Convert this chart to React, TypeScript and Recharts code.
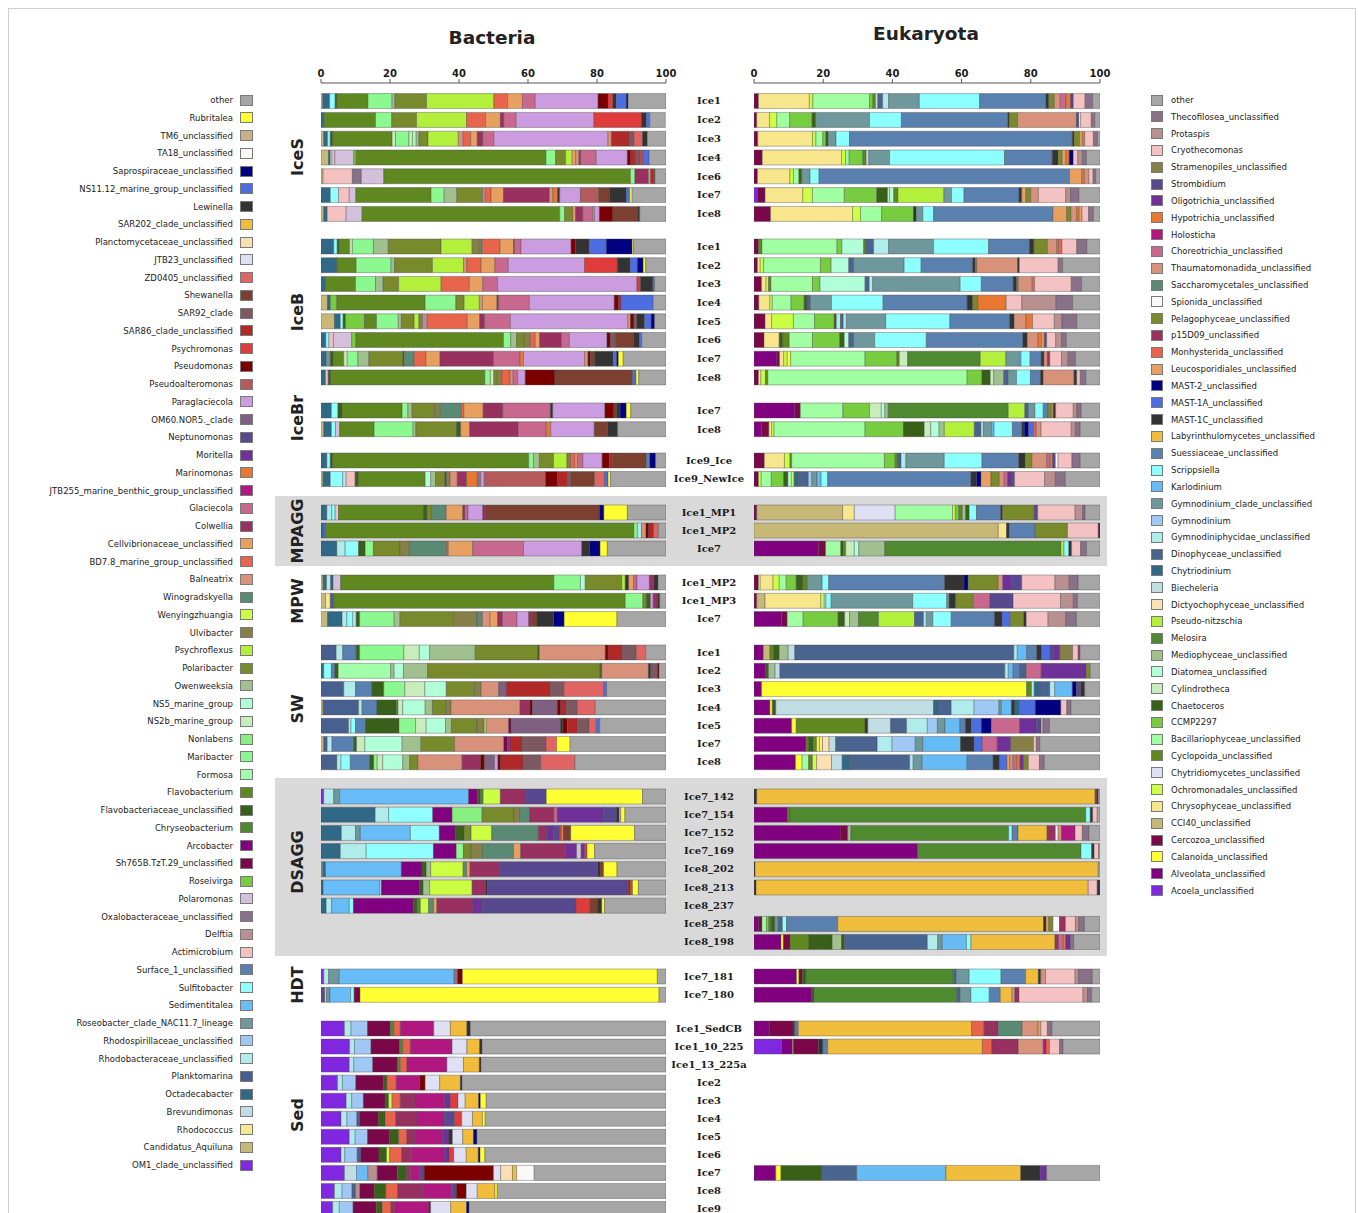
import React from "react";
import { BarChart, Bar, XAxis, YAxis, Cell } from "recharts";

type Seg = [string, number];

// ---- legends (code, label, colour) ----
const bacteriaLegend: [string, string, string][] = [
  ["oth", "other", "#a6a6a6"],
  ["Rub", "Rubritalea", "#ffff33"],
  ["TM6", "TM6_unclassified", "#c8b08a"],
  ["TA18", "TA18_unclassified", "#fdf8f8"],
  ["Sap", "Saprospiraceae_unclassified", "#000080"],
  ["NS11", "NS11.12_marine_group_unclassified", "#4d6ee0"],
  ["Lew", "Lewinella", "#333333"],
  ["S202", "SAR202_clade_unclassified", "#f0bc3a"],
  ["Pla", "Planctomycetaceae_unclassified", "#fbe0b4"],
  ["JTB23", "JTB23_unclassified", "#e0e0f4"],
  ["ZD", "ZD0405_unclassified", "#e06464"],
  ["She", "Shewanella", "#7c4030"],
  ["S92", "SAR92_clade", "#7c5860"],
  ["S86", "SAR86_clade_unclassified", "#b02828"],
  ["Psm", "Psychromonas", "#e03c3c"],
  ["Pse", "Pseudomonas", "#7a0000"],
  ["Pal", "Pseudoalteromonas", "#b45a5a"],
  ["Par", "Paraglaciecola", "#cc9ce0"],
  ["OM60", "OM60.NOR5._clade", "#806080"],
  ["Nep", "Neptunomonas", "#584890"],
  ["Mor", "Moritella", "#70309a"],
  ["Mar", "Marinomonas", "#e87830"],
  ["J255", "JTB255_marine_benthic_group_unclassified", "#b01880"],
  ["Gla", "Glaciecola", "#c8688e"],
  ["Col", "Colwellia", "#983060"],
  ["Cel", "Cellvibrionaceae_unclassified", "#e8a060"],
  ["BD7", "BD7.8_marine_group_unclassified", "#e8644a"],
  ["Bal", "Balneatrix", "#d8927a"],
  ["Win", "Winogradskyella", "#5a8a74"],
  ["Wen", "Wenyingzhuangia", "#ccff44"],
  ["Ulv", "Ulvibacter", "#868048"],
  ["Psf", "Psychroflexus", "#b2f03c"],
  ["Pol", "Polaribacter", "#788a2c"],
  ["Owe", "Owenweeksia", "#a0c090"],
  ["NS5", "NS5_marine_group", "#b0ffd8"],
  ["NS2b", "NS2b_marine_group", "#c8ecbc"],
  ["Non", "Nonlabens", "#88f080"],
  ["Mab", "Maribacter", "#8cf890"],
  ["For", "Formosa", "#a0ffa8"],
  ["Fla", "Flavobacterium", "#608820"],
  ["Fu", "Flavobacteriaceae_unclassified", "#386018"],
  ["Chr", "Chryseobacterium", "#508830"],
  ["Arc", "Arcobacter", "#800080"],
  ["Sh7", "Sh765B.TzT.29_unclassified", "#7a0848"],
  ["Ros", "Roseivirga", "#78cc40"],
  ["Plm", "Polaromonas", "#d4c0dc"],
  ["Oxa", "Oxalobacteraceae_unclassified", "#887088"],
  ["Del", "Delftia", "#b89090"],
  ["Act", "Actimicrobium", "#f4c0c0"],
  ["Sur", "Surface_1_unclassified", "#5880b0"],
  ["Sul", "Sulfitobacter", "#90ffff"],
  ["Sed", "Sedimentitalea", "#68bcf8"],
  ["NAC", "Roseobacter_clade_NAC11.7_lineage", "#70989c"],
  ["Rsp", "Rhodospirillaceae_unclassified", "#a0c8f4"],
  ["Rbu", "Rhodobacteraceae_unclassified", "#b0ecec"],
  ["Pkm", "Planktomarina", "#486090"],
  ["Oct", "Octadecabacter", "#306888"],
  ["Bre", "Brevundimonas", "#c0dce4"],
  ["Rho", "Rhodococcus", "#f8e890"],
  ["Aqu", "Candidatus_Aquiluna", "#c8b878"],
  ["OM1", "OM1_clade_unclassified", "#8028e0"],
];

const eukaryotaLegend: [string, string, string][] = [
  ["oth", "other", "#a6a6a6"],
  ["The", "Thecofilosea_unclassified", "#887088"],
  ["Pro", "Protaspis", "#b89090"],
  ["Cry", "Cryothecomonas", "#f4c2c2"],
  ["Str", "Stramenopiles_unclassified", "#868048"],
  ["Stb", "Strombidium", "#584890"],
  ["Oli", "Oligotrichia_unclassified", "#70309a"],
  ["Hyp", "Hypotrichia_unclassified", "#e87830"],
  ["Hol", "Holosticha", "#b01880"],
  ["Cho", "Choreotrichia_unclassified", "#c8688e"],
  ["Tha", "Thaumatomonadida_unclassified", "#d8927a"],
  ["Sac", "Saccharomycetales_unclassified", "#5a8a74"],
  ["Spi", "Spionida_unclassified", "#fdf8f8"],
  ["Pel", "Pelagophyceae_unclassified", "#788a2c"],
  ["p15", "p15D09_unclassified", "#983060"],
  ["Mon", "Monhysterida_unclassified", "#e8644a"],
  ["Leu", "Leucosporidiales_unclassified", "#e8a060"],
  ["M2", "MAST-2_unclassified", "#000080"],
  ["M1A", "MAST-1A_unclassified", "#4d6ee0"],
  ["M1C", "MAST-1C_unclassified", "#333333"],
  ["Lab", "Labyrinthulomycetes_unclassified", "#f0be3c"],
  ["Sue", "Suessiaceae_unclassified", "#5a80b0"],
  ["Scr", "Scrippsiella", "#8cffff"],
  ["Kar", "Karlodinium", "#66bbf5"],
  ["Gyc", "Gymnodinium_clade_unclassified", "#6e989c"],
  ["Gym", "Gymnodinium", "#a0c8f4"],
  ["Gyp", "Gymnodiniphycidae_unclassified", "#b0ecec"],
  ["Din", "Dinophyceae_unclassified", "#4a6490"],
  ["Chy", "Chytriodinium", "#306888"],
  ["Bie", "Biecheleria", "#c0dde4"],
  ["Dic", "Dictyochophyceae_unclassified", "#fbe0b4"],
  ["Pn", "Pseudo-nitzschia", "#b2f03c"],
  ["Mel", "Melosira", "#508a30"],
  ["Med", "Mediophyceae_unclassified", "#a0c090"],
  ["Dia", "Diatomea_unclassified", "#b0ffd8"],
  ["Cyl", "Cylindrotheca", "#c8ecbc"],
  ["Cha", "Chaetoceros", "#386018"],
  ["CCM", "CCMP2297", "#78cc40"],
  ["Bac", "Bacillariophyceae_unclassified", "#a0ffa0"],
  ["Cyc", "Cyclopoida_unclassified", "#608820"],
  ["Ctm", "Chytridiomycetes_unclassified", "#e0e0f4"],
  ["Och", "Ochromonadales_unclassified", "#ccff44"],
  ["Chs", "Chrysophyceae_unclassified", "#f8e68c"],
  ["CCI", "CCI40_unclassified", "#c8b878"],
  ["Cer", "Cercozoa_unclassified", "#7a0848"],
  ["Cal", "Calanoida_unclassified", "#ffff33"],
  ["Alv", "Alveolata_unclassified", "#800080"],
  ["Aco", "Acoela_unclassified", "#8028e0"],
];

const axisTicks = [0, 20, 40, 60, 80, 100];

// ---- sample labels per group ----
const rowsIceS = ["Ice1", "Ice2", "Ice3", "Ice4", "Ice6", "Ice7", "Ice8"];
const rowsIceB = ["Ice1", "Ice2", "Ice3", "Ice4", "Ice5", "Ice6", "Ice7", "Ice8"];
const rowsIceBr = ["Ice7", "Ice8"];
const rowsIce9 = ["Ice9_Ice", "Ice9_NewIce"];
const rowsMPAGG = ["Ice1_MP1", "Ice1_MP2", "Ice7"];
const rowsMPW = ["Ice1_MP2", "Ice1_MP3", "Ice7"];
const rowsSW = ["Ice1", "Ice2", "Ice3", "Ice4", "Ice5", "Ice7", "Ice8"];
const rowsDSAGG = ["Ice7_142", "Ice7_154", "Ice7_152", "Ice7_169", "Ice8_202", "Ice8_213", "Ice8_237", "Ice8_258", "Ice8_198"];
const rowsHDT = ["Ice7_181", "Ice7_180"];
const rowsSed = ["Ice1_SedCB", "Ice1_10_225", "Ice1_13_225a", "Ice2", "Ice3", "Ice4", "Ice5", "Ice6", "Ice7", "Ice8", "Ice9"];

// ---- Bacteria relative abundance (%), segments left to right ----
const bacIceS: Seg[][] = [
  [["Aqu", 0.5], ["Oct", 2], ["Sul", 1.6], ["Fu", 0.5], ["Fla", 9], ["Mab", 7], ["Owe", 0.8], ["Pol", 9.2], ["Psf", 19.5], ["BD7", 4], ["Cel", 4.3], ["Gla", 3.7], ["Par", 18.2], ["Pse", 2.9], ["Psm", 1.4], ["Lew", 1], ["NS11", 2.9], ["Sap", 0.5], ["oth", 11]],
  [["Oct", 0.8], ["Fla", 15], ["Mab", 4.7], ["Pol", 7.2], ["Psf", 14.5], ["BD7", 5.5], ["Cel", 4.3], ["Col", 1], ["Gla", 3.6], ["Par", 22.5], ["Psm", 13.8], ["Lew", 1.4], ["NS11", 1], ["oth", 4.5]],
  [["Aqu", 0.8], ["Oct", 1.1], ["Sul", 0.8], ["Fu", 0.7], ["Fla", 17.2], ["NS2b", 1], ["Mab", 3.9], ["NS2b", 1], ["For", 1.1], ["Owe", 0.8], ["Pol", 2.6], ["Psf", 8.8], ["Bal", 1.4], ["BD7", 2.2], ["Cel", 1.9], ["Col", 1.6], ["Gla", 3.2], ["Par", 33.1], ["Bal", 1], ["S86", 5.1], ["S92", 1.4], ["ZD", 2.5], ["Lew", 1.4], ["oth", 5.4]],
  [["Aqu", 2.2], ["Oct", 0.5], ["Sul", 0.5], ["Act", 0.8], ["Plm", 5.5], ["Ros", 0.7], ["Fla", 55], ["Mab", 2.8], ["Pol", 2.9], ["Psf", 1.9], ["Cel", 1], ["Bal", 1], ["Col", 0.5], ["Gla", 4.5], ["Par", 9], ["Pse", 1], ["S86", 1.4], ["S92", 1.3], ["Psm", 0.8], ["NS11", 1.8], ["oth", 4.9]],
  [["Aqu", 0.6], ["Act", 8.5], ["Oxa", 2.6], ["Plm", 6.5], ["Fla", 71.5], ["Mab", 1.3], ["Col", 3.9], ["Bal", 0.7], ["S86", 0.8], ["She", 0.4], ["oth", 3.2]],
  [["Oct", 2.7], ["Sul", 2.4], ["Act", 3.1], ["Plm", 1.9], ["Fla", 21.8], ["Mab", 3.8], ["Owe", 3.7], ["Pol", 7.4], ["Del", 0.8], ["BD7", 1.7], ["Cel", 3.6], ["Col", 13.3], ["Bal", 1], ["Mar", 1.4], ["Lew", 0.6], ["Par", 6], ["Pal", 5.3], ["She", 3.1], ["Lew", 4.9], ["NS11", 1], ["Rub", 0.7], ["oth", 9.8]],
  [["Aqu", 0.8], ["Oct", 1], ["Act", 5.5], ["Plm", 4.6], ["Fla", 57.3], ["Mab", 1.4], ["Pol", 2.4], ["Cel", 0.8], ["Col", 2.1], ["Gla", 2.9], ["Bal", 0.5], ["Par", 1.4], ["Pse", 3.9], ["She", 7.3], ["Lew", 0.5], ["oth", 7.6]],
];

const bacIceB: Seg[][] = [
  [["Oct", 3.7], ["Sul", 1], ["Fu", 0.5], ["Fla", 3.1], ["NS2b", 0.8], ["Mab", 6.1], ["Owe", 4.3], ["Pol", 15.3], ["Psf", 9], ["Ulv", 2.1], ["Win", 0.8], ["BD7", 5.2], ["Cel", 3.9], ["Col", 0.3], ["Gla", 1.9], ["Par", 14.5], ["Pse", 1.3], ["Lew", 3.9], ["NS11", 5], ["Sap", 7.5], ["Rub", 0.4], ["oth", 9.4]],
  [["Oct", 4.6], ["Fla", 5.6], ["Mab", 10.1], ["Owe", 1], ["Pol", 11], ["Psf", 9], ["Bal", 1], ["BD7", 4.1], ["Cel", 4], ["Gla", 3.9], ["Par", 22.1], ["Psm", 9.5], ["Lew", 3.7], ["NS11", 2.1], ["Sap", 1.7], ["Rub", 0.7], ["oth", 5.9]],
  [["Oct", 1.3], ["Fla", 8.7], ["Mab", 5.8], ["Owe", 2.2], ["Pol", 4.5], ["Psf", 12.3], ["BD7", 8.2], ["Cel", 3.9], ["Gla", 4.3], ["Par", 40.4], ["Psm", 1], ["Lew", 3.6], ["NS11", 0.5], ["oth", 3.3]],
  [["Aqu", 1.9], ["Oct", 0.8], ["Ros", 1.9], ["Fla", 25.6], ["Mab", 8.9], ["Pol", 2.4], ["Psf", 4.4], ["Bal", 0.9], ["Cel", 4.2], ["Col", 0.5], ["Gla", 8.9], ["Par", 24.6], ["Pse", 1.3], ["Col", 0.7], ["NS11", 9.3], ["oth", 3.7]],
  [["Aqu", 3.9], ["Oct", 1.7], ["Sul", 0.8], ["Fu", 0.7], ["Ros", 5.5], ["Fla", 3.5], ["Mab", 6.3], ["Owe", 0.9], ["Pol", 3.7], ["Psf", 1.4], ["Ulv", 1], ["Del", 1.4], ["BD7", 11.6], ["Cel", 3.6], ["Col", 1.4], ["Gla", 7.5], ["Par", 34], ["Bal", 0.8], ["Pse", 1], ["S92", 0.8], ["Lew", 2.3], ["NS11", 1.9], ["Sap", 1], ["oth", 3.3]],
  [["Oct", 1.4], ["Sul", 0.9], ["Act", 1.3], ["Plm", 5.3], ["Ros", 1.2], ["Fla", 42.8], ["Mab", 2.1], ["Owe", 1.7], ["Pol", 2.1], ["Ulv", 1.9], ["BD7", 1.4], ["Cel", 1.3], ["Col", 6.3], ["Gla", 2.3], ["Par", 10.9], ["Pse", 1], ["S92", 1.4], ["She", 5.3], ["Lew", 1.7], ["NS11", 0.7], ["oth", 7]],
  [["Oct", 1.5], ["NAC", 1.2], ["Fu", 0.8], ["Fla", 3.1], ["NS2b", 1], ["Mab", 3.1], ["Owe", 3.2], ["Pol", 9.9], ["Fu", 0.3], ["Win", 2.9], ["BD7", 3.4], ["Cel", 4.1], ["Col", 15.5], ["Gla", 7.7], ["Mar", 1], ["Par", 17.7], ["Bal", 1], ["Pse", 0.7], ["She", 1.3], ["Lew", 5.3], ["NS11", 1], ["Sap", 0.5], ["Rub", 1.4], ["oth", 12.4]],
  [["Oct", 1.3], ["Act", 0.8], ["Fu", 0.7], ["Fla", 44.7], ["Mab", 1.6], ["NS2b", 1], ["Pol", 1], ["Ulv", 1.3], ["BD7", 2.4], ["Bal", 0.9], ["Gla", 1.3], ["Par", 2.2], ["Pse", 8.6], ["She", 22.5], ["NS11", 1], ["Rub", 0.8], ["oth", 7.9]],
];

const bacIceBr: Seg[][] = [
  [["Oct", 3], ["Sul", 1.9], ["Fu", 1.2], ["Fla", 17.4], ["Mab", 1.7], ["Owe", 1.2], ["Pol", 6.6], ["Ulv", 1.6], ["Win", 6.1], ["BD7", 0.7], ["Cel", 5.6], ["Col", 5.7], ["Gla", 13.8], ["Lew", 0.7], ["Par", 15.1], ["Pse", 2.6], ["She", 0.7], ["Lew", 1.1], ["Sap", 1.8], ["Rub", 1.3], ["oth", 10.2]],
  [["Aqu", 0.8], ["Oct", 2.2], ["Sul", 1.2], ["Plm", 1.2], ["Fla", 10], ["Mab", 11.3], ["Owe", 0.8], ["Pol", 11.8], ["Fu", 1.2], ["Cel", 2.6], ["Col", 14], ["Gla", 8.2], ["Mar", 1.3], ["Par", 12.6], ["She", 3.9], ["Lew", 2.9], ["oth", 14]],
];

const bacIce9: Seg[][] = [
  [["Oct", 1.7], ["Sul", 1], ["Fu", 0.7], ["Fla", 56.8], ["Mab", 1.4], ["Owe", 1.7], ["Pol", 4.1], ["Psf", 3.9], ["Ulv", 1], ["BD7", 1.3], ["Cel", 0.7], ["Gla", 1.6], ["Par", 5.6], ["Pse", 2.1], ["S86", 0.8], ["She", 9.9], ["Sur", 1], ["Sap", 1.7], ["oth", 3]],
  [["Aqu", 0.6], ["Oct", 2.1], ["Sul", 3.6], ["Rbu", 1], ["Act", 2.6], ["Fu", 1], ["Fla", 19.3], ["NS5", 1.6], ["Owe", 1.4], ["Pol", 2.7], ["Fu", 0.5], ["Ulv", 1], ["Bal", 2.1], ["Col", 2.7], ["Mar", 3.1], ["Oxa", 1], ["Par", 1], ["Pal", 17.8], ["Pse", 3.5], ["S86", 2.9], ["S92", 0.9], ["She", 6.9], ["ZD", 2.9], ["NS11", 1], ["Rub", 0.7], ["oth", 16.1]],
];

const bacMPAGG: Seg[][] = [
  [["Oct", 1.7], ["Rbu", 1.4], ["Sul", 1], ["Act", 1], ["Fla", 24.6], ["Fu", 1], ["Pol", 1.3], ["Win", 4.3], ["Cel", 4.8], ["Col", 0.6], ["Gla", 0.9], ["Par", 4.3], ["Col", 0.8], ["She", 33], ["Sap", 1.3], ["Rub", 6.8], ["oth", 11.2]],
  [["Oct", 0.8], ["NS11", 0.5], ["Fla", 89.4], ["Mab", 1], ["Rbu", 1.2], ["Bal", 1.3], ["Pse", 0.8], ["S86", 1.4], ["ZD", 1.4], ["oth", 2.2]],
  [["Oct", 4.6], ["Rbu", 2.4], ["Sul", 3.9], ["Fu", 1.9], ["Mab", 2.4], ["Pol", 7.7], ["Ulv", 2.7], ["Win", 10.8], ["BD7", 0.5], ["Cel", 7.1], ["Gla", 14.7], ["Par", 16.9], ["Lew", 2.2], ["Sap", 3.1], ["Rub", 2.1], ["oth", 17]],
];

const bacMPW: Seg[][] = [
  [["Aqu", 0.6], ["Oct", 1], ["Rbu", 1.2], ["Oct", 0.7], ["Plm", 2.2], ["Fla", 61.8], ["Mab", 7.7], ["NS5", 1.4], ["Pol", 10.6], ["Psf", 1], ["Lew", 1], ["Cel", 1.4], ["Gla", 1], ["Par", 3.6], ["Col", 1.3], ["Lew", 1.2], ["oth", 2.3]],
  [["Aqu", 1.3], ["Rho", 1.4], ["Pkm", 1], ["Fla", 84.5], ["Mab", 5.1], ["Pol", 1], ["Fu", 1.2], ["Par", 0.8], ["Col", 1.2], ["Lew", 0.7], ["oth", 1.8]],
  [["Aqu", 1.9], ["Oct", 4.2], ["Rbu", 1.4], ["Sul", 1.7], ["Rbu", 1], ["Fu", 1], ["Mab", 10], ["Owe", 1.7], ["Pol", 15.5], ["Ulv", 6.8], ["Win", 1.6], ["Bal", 2.2], ["Cel", 2.2], ["Col", 1.4], ["Gla", 4.2], ["Par", 3.4], ["Col", 0.8], ["She", 1.6], ["Lew", 4.8], ["Sap", 3.1], ["Rub", 15.3], ["oth", 14.2]],
];

const bacSW: Seg[][] = [
  [["Pkm", 4.4], ["Rbu", 1.9], ["Sur", 3.9], ["Fu", 1], ["Mab", 12.8], ["NS2b", 4.5], ["NS5", 3], ["Owe", 13.2], ["Pol", 18.2], ["Fu", 0.4], ["Bal", 19.1], ["Pse", 0.8], ["S86", 4.1], ["S92", 4.1], ["ZD", 2.7], ["oth", 5.9]],
  [["Oct", 0.8], ["Sul", 2.2], ["Sur", 1], ["Fu", 1], ["For", 15.2], ["Owe", 1], ["NS5", 2.7], ["Owe", 7], ["Pol", 50], ["Fu", 0.5], ["Bal", 13.5], ["Lew", 0.7], ["S92", 1.9], ["Pse", 0.5], ["oth", 2]],
  [["Pkm", 6.6], ["Rbu", 3.4], ["Sur", 4.8], ["Fu", 3.4], ["Mab", 6.1], ["NS2b", 5.8], ["NS5", 6.2], ["Pol", 8.2], ["Ulv", 1.9], ["Bal", 5.1], ["OM60", 2.2], ["S86", 12.8], ["S92", 3.9], ["ZD", 11.6], ["NS11", 0.8], ["oth", 17.2]],
  [["Aqu", 0.6], ["Pkm", 10.3], ["Rbu", 1], ["Sur", 4.3], ["Fu", 5.6], ["Chr", 0.5], ["NS2b", 1.4], ["NS5", 6.5], ["Owe", 2.1], ["Pol", 4], ["Ulv", 1.4], ["Bal", 20], ["Col", 2.9], ["Pse", 0.7], ["OM60", 7.2], ["Pse", 1], ["S86", 1.6], ["S92", 3.2], ["ZD", 5.2], ["oth", 20.5]],
  [["Pkm", 8], ["Rbu", 0.7], ["Sul", 1.3], ["Sur", 2.9], ["Fu", 9.7], ["Mab", 4.8], ["NS2b", 3.1], ["NS5", 5.6], ["Owe", 1.7], ["Pol", 7.4], ["Ulv", 2.1], ["Psf", 0.6], ["Bal", 6.5], ["Sh7", 0.7], ["OM60", 14.3], ["Lew", 0.7], ["Pse", 1.3], ["S86", 2.9], ["S92", 3.4], ["ZD", 2.1], ["NS11", 1], ["oth", 19.2]],
  [["Aqu", 0.8], ["Pkm", 1], ["Rbu", 1.4], ["Sur", 6.3], ["Fu", 0.8], ["NS2b", 2.4], ["NS5", 10.8], ["Owe", 5.5], ["Pol", 9.7], ["Bal", 14.3], ["Sh7", 1], ["Mor", 0.7], ["S86", 3.7], ["S92", 6.8], ["ZD", 3.1], ["Rub", 3.9], ["oth", 27.8]],
  [["Pkm", 4.6], ["Rbu", 1.2], ["Sul", 2.7], ["Sur", 5.6], ["Fu", 1.2], ["Mab", 1], ["NS2b", 1.6], ["NS5", 5.8], ["Owe", 2], ["Pol", 2.4], ["Bal", 12.8], ["Col", 5.3], ["Pse", 1.2], ["OM60", 2.9], ["Par", 1], ["Pse", 0.8], ["S86", 6.5], ["S92", 5.1], ["ZD", 9.9], ["oth", 26.4]],
];

const bacDSAGG: Seg[][] = [
  [["OM1", 0.8], ["Rbu", 2.9], ["NAC", 1.7], ["Sed", 37.4], ["Arc", 2.6], ["Fu", 0.8], ["Chr", 0.8], ["Wen", 5], ["Col", 7.2], ["Nep", 6.1], ["Rub", 27.9], ["oth", 6.8]],
  [["Oct", 15.7], ["Rbu", 3.9], ["Sul", 12.8], ["Arc", 5.6], ["Non", 8.7], ["Pol", 9.2], ["Ulv", 1.7], ["Win", 2.9], ["Col", 7], ["Gla", 1], ["Mor", 13.3], ["Nep", 3.8], ["Lew", 0.8], ["Par", 0.5], ["Rub", 1.2], ["oth", 11.9]],
  [["Oct", 5.9], ["Rbu", 4.1], ["NAC", 1.4], ["Sed", 14.5], ["Sul", 8.4], ["Arc", 4.6], ["Fu", 2.6], ["Pol", 2], ["Wen", 6], ["Win", 13.5], ["Col", 2.4], ["Mor", 1.9], ["Nep", 1.9], ["Psm", 0.5], ["Cel", 0.5], ["She", 2.2], ["Rub", 18.5], ["oth", 9.1]],
  [["Oct", 5.6], ["Rbu", 7.5], ["Sul", 19.5], ["Arc", 6.6], ["Mab", 2.1], ["Pol", 2.2], ["Ulv", 3.3], ["Win", 9], ["Cel", 2.1], ["Col", 13], ["Mor", 3.2], ["Plm", 1.3], ["Mor", 1], ["Psm", 0.7], ["Rub", 2.2], ["oth", 20.7]],
  [["NAC", 0.6], ["Oct", 0.7], ["Sed", 22], ["Arc", 6], ["Fu", 1.2], ["Owe", 1.3], ["Wen", 9.4], ["Win", 1], ["Cel", 1], ["Col", 8.5], ["Nep", 28.5], ["Lew", 0.7], ["She", 1], ["Rub", 3.9], ["oth", 14.2]],
  [["Oct", 0.6], ["Sed", 16.4], ["Rbu", 0.5], ["Arc", 11.1], ["Fu", 1], ["Owe", 1.9], ["Wen", 12.3], ["Col", 3.9], ["Lew", 0.5], ["Nep", 40.6], ["She", 0.8], ["Psm", 0.7], ["Rub", 1.7], ["oth", 8]],
  [["Oct", 1.5], ["Rbu", 1.6], ["Sed", 5.1], ["Sul", 1.2], ["Arc", 17.4], ["Fu", 1], ["Chr", 1], ["Wen", 2.4], ["Win", 1.4], ["Cel", 1], ["Col", 10.4], ["Mor", 2.8], ["Nep", 27.1], ["Psm", 4.1], ["She", 2.1], ["Lew", 1.3], ["Rub", 0.8], ["oth", 17.8]],
  [],
  [],
];

const bacHDT: Seg[][] = [
  [["OM1", 0.8], ["Rbu", 1.4], ["NAC", 3.1], ["Sed", 33.3], ["Oxa", 1], ["Pse", 1.4], ["Rub", 56.5], ["oth", 2.5]],
  [["Nep", 1.1], ["Rbu", 0.5], ["NAC", 1], ["Sed", 6], ["Sul", 1], ["Sh7", 1.7], ["Rub", 86.7], ["oth", 2]],
];

const bacSed: Seg[][] = [
  [["OM1", 6.8], ["Rbu", 1.9], ["Rsp", 4.8], ["Sh7", 6.6], ["Chr", 1], ["BD7", 1.9], ["J255", 9.7], ["JTB23", 4.8], ["S202", 4.8], ["Lew", 1], ["oth", 56.7]],
  [["OM1", 8.3], ["Rbu", 1.4], ["Rsp", 4.8], ["Sh7", 8.3], ["Chr", 0.9], ["BD7", 2.2], ["J255", 12.1], ["JTB23", 4.3], ["S202", 3.7], ["Lew", 0.7], ["oth", 53.3]],
  [["OM1", 8.2], ["Rbu", 1.3], ["Rsp", 5.5], ["Sh7", 7.2], ["Chr", 0.8], ["BD7", 1.9], ["J255", 11.6], ["JTB23", 4.8], ["S202", 4.6], ["Lew", 0.5], ["oth", 53.6]],
  [["OM1", 4.8], ["Rbu", 1.4], ["Rsp", 3.9], ["Sh7", 8], ["Fu", 1], ["BD7", 2.7], ["J255", 6.8], ["Pse", 1.6], ["JTB23", 4.2], ["S202", 6], ["Lew", 0.5], ["oth", 59.1]],
  [["OM1", 7.3], ["Rbu", 1.6], ["Rsp", 3.4], ["Sh7", 6.3], ["Fu", 1], ["Wen", 1], ["BD7", 2.4], ["Col", 4.2], ["J255", 8.6], ["Mor", 1.7], ["Psm", 2.2], ["JTB23", 2.1], ["S202", 3.9], ["Sap", 0.5], ["Rub", 1.7], ["oth", 52.1]],
  [["OM1", 5.8], ["Rbu", 1.7], ["Rsp", 2.9], ["Pkm", 0.8], ["Sh7", 5.5], ["Fu", 1.9], ["BD7", 3.1], ["Col", 6.1], ["J255", 7.9], ["Nep", 3], ["Psm", 2.1], ["JTB23", 3.1], ["S202", 2.9], ["Rub", 0.8], ["oth", 52.4]],
  [["OM1", 8.2], ["Rbu", 1.7], ["Rsp", 3.6], ["Sh7", 6.4], ["Fu", 2.6], ["BD7", 2.4], ["Col", 2.2], ["J255", 8.1], ["Mor", 1.9], ["Lew", 1], ["JTB23", 3], ["S202", 3.1], ["Sap", 1], ["oth", 54.8]],
  [["OM1", 5.8], ["Rbu", 1.1], ["Rsp", 3.6], ["Pkm", 1], ["Sh7", 5.3], ["Fu", 2.2], ["Wen", 0.9], ["BD7", 3.5], ["Col", 2.9], ["J255", 9.4], ["Mor", 1.4], ["Psm", 1.4], ["JTB23", 3.6], ["S202", 3.5], ["Sap", 0.5], ["Rub", 1.4], ["oth", 52.5]],
  [["OM1", 6.8], ["Bre", 3.5], ["Sed", 3.3], ["Del", 2.7], ["Sh7", 5.8], ["Fu", 2.7], ["Col", 1.2], ["J255", 2.6], ["Nep", 1.3], ["Pse", 20.1], ["JTB23", 2.1], ["Pla", 3.4], ["S202", 1.2], ["TA18", 5.1], ["oth", 38.2]],
  [["OM1", 3.9], ["Rbu", 2.2], ["Rsp", 2.9], ["Pkm", 1], ["Del", 1.3], ["Sh7", 4.1], ["Fu", 3.4], ["BD7", 3.4], ["Col", 7.2], ["J255", 8.4], ["Nep", 1.4], ["Pse", 2.9], ["JTB23", 3.2], ["S202", 5.1], ["Rub", 0.7], ["oth", 48.9]],
  [["OM1", 3.4], ["Rbu", 1.9], ["Rsp", 4], ["Sh7", 6.7], ["Fu", 1.7], ["BD7", 2.6], ["Col", 1.1], ["J255", 9.9], ["Lew", 0.5], ["JTB23", 5.8], ["S202", 4.6], ["Sap", 0.7], ["oth", 57.1]],
];

// ---- Eukaryota relative abundance (%) ----
const eukIceS: Seg[][] = [
  [["Cer", 1.3], ["Chs", 14.7], ["Och", 1], ["Bac", 16.4], ["CCM", 1], ["Cyc", 0.7], ["Bie", 0.7], ["Din", 1.4], ["Gyp", 1.7], ["Gyc", 8.9], ["Scr", 17.4], ["Sue", 19.2], ["M1C", 0.8], ["Pel", 1.6], ["Tha", 1.7], ["Cho", 1.7], ["Hyp", 1.3], ["Stb", 0.8], ["Cry", 3.4], ["The", 2.2], ["oth", 2.1]],
  [["Cer", 0.8], ["Chs", 3.7], ["Och", 2.1], ["Bac", 3.7], ["CCM", 6.5], ["Cha", 1], ["Gyc", 15.6], ["Scr", 9.2], ["Sue", 30.8], ["M1C", 0.4], ["Pel", 2.4], ["Tha", 17], ["Stb", 0.7], ["Spi", 0.5], ["Cry", 3.1], ["The", 1], ["oth", 1.5]],
  [["Cer", 1.1], ["Chs", 15.8], ["Och", 1], ["Bac", 2], ["CCM", 0.9], ["Cha", 0.6], ["Gyc", 2.3], ["Scr", 3.9], ["Sue", 64.4], ["M1C", 0.5], ["Pel", 1.6], ["Leu", 0.8], ["Hyp", 0.7], ["Cry", 2.5], ["The", 1.2], ["oth", 0.7]],
  [["Cer", 2.4], ["Chs", 22.9], ["Och", 1.2], ["Bac", 1], ["CCM", 4], ["Cyc", 0.9], ["Bie", 0.8], ["Gyc", 6], ["Scr", 33.2], ["Sue", 13.8], ["M1C", 1.7], ["Pel", 1.2], ["Leu", 1], ["Hyp", 1], ["M2", 1.2], ["Cry", 1.3], ["Pro", 1.3], ["The", 1.2], ["oth", 3.9]],
  [["Cer", 1], ["Chs", 9.4], ["Och", 1], ["Bac", 1.6], ["Cha", 0.8], ["Gyc", 2.4], ["Scr", 2.6], ["Sue", 72.4], ["Leu", 3.6], ["Hyp", 0.7], ["Tha", 1.3], ["Cry", 1.2], ["The", 0.8], ["oth", 1.2]],
  [["Aco", 1], ["Cer", 2.2], ["Chs", 10.9], ["Och", 2.8], ["Bac", 9.2], ["CCM", 9.4], ["Cha", 3.1], ["Cyl", 0.6], ["Dia", 1.2], ["Cyc", 1.2], ["Pn", 13.3], ["Gyc", 2.2], ["Scr", 3.6], ["Sue", 15.9], ["M1C", 0.8], ["Leu", 1.2], ["Pel", 1.4], ["Tha", 2.2], ["Cry", 7.9], ["Pro", 1.4], ["The", 2.4], ["oth", 6.1]],
  [["Cer", 4.8], ["Chs", 23.7], ["Och", 2.3], ["Bac", 6.1], ["CCM", 9.2], ["M1C", 0.8], ["Gyc", 1.9], ["Scr", 3.1], ["Sue", 34.5], ["Leu", 4], ["Pel", 1.2], ["Tha", 1.7], ["Hyp", 0.7], ["Leu", 0.8], ["Cry", 1.9], ["The", 1.4], ["oth", 1.9]],
];

const eukIceB: Seg[][] = [
  [["Cer", 1.3], ["Cyc", 1], ["Bac", 21.7], ["CCM", 1.4], ["Dia", 6.3], ["Cyc", 0.7], ["Din", 2.2], ["Gyp", 4.3], ["Gyc", 13], ["Scr", 15.9], ["Sue", 11.8], ["M1C", 1.3], ["Pel", 3.9], ["Tha", 2.7], ["Hyp", 0.5], ["Mon", 1], ["Cry", 4.3], ["The", 2.9], ["oth", 3.8]],
  [["Cer", 1], ["Chs", 0.8], ["Och", 1], ["Bac", 16.4], ["CCM", 3.1], ["Dia", 5.1], ["Din", 1.4], ["Gyc", 14.6], ["Scr", 4.9], ["Sue", 14.9], ["M1C", 0.7], ["Pel", 0.5], ["Tha", 11.8], ["M1C", 0.5], ["Cry", 11.2], ["The", 1.3], ["oth", 10.8]],
  [["Cer", 2.2], ["Chs", 1.3], ["Och", 0.7], ["Cyc", 0.7], ["Bac", 12], ["CCM", 2.2], ["Dia", 13], ["Din", 1.2], ["Gyp", 1], ["Gyc", 25.3], ["Scr", 6.1], ["Sue", 9.2], ["M1C", 1], ["Pel", 0.5], ["Tha", 4], ["Mon", 0.7], ["Cry", 10.6], ["The", 3], ["oth", 5.3]],
  [["Cer", 1.4], ["Chs", 3.2], ["Och", 0.7], ["Bac", 5.4], ["CCM", 3.8], ["Cha", 0.8], ["Din", 1], ["Gyc", 6.1], ["Scr", 14.9], ["Sue", 24.3], ["M1C", 1.6], ["Pel", 1.5], ["Hyp", 8.2], ["Cry", 4.5], ["Pro", 9.9], ["The", 4.8], ["oth", 7.9]],
  [["Cer", 3.2], ["Chs", 1.9], ["Och", 6.3], ["Bac", 6.1], ["CCM", 5.7], ["Cha", 0.6], ["Gyp", 1.2], ["Din", 0.8], ["Gyp", 0.9], ["Gyc", 11.4], ["Scr", 18.5], ["Sue", 17.3], ["M1C", 1.3], ["Tha", 3.4], ["Hyp", 1.9], ["Cry", 6.3], ["Pro", 2.2], ["The", 4.3], ["oth", 6.7]],
  [["Cer", 2.9], ["Chs", 4.4], ["Cha", 1], ["Cyc", 1.9], ["Bac", 6.7], ["CCM", 7.9], ["Cha", 1.3], ["Dia", 1.3], ["Din", 1.4], ["Gyc", 6.1], ["Scr", 14.9], ["Sue", 27.9], ["M1C", 1.3], ["Tha", 3.1], ["Hyp", 1], ["Leu", 0.8], ["Stb", 0.7], ["Cry", 2.6], ["Pro", 1.7], ["The", 1.4], ["oth", 9.7]],
  [["Alv", 6.6], ["Cer", 0.8], ["Chs", 1.2], ["Och", 1], ["Cal", 1], ["Bac", 21.5], ["CCM", 9.2], ["Cyc", 0.7], ["Cyl", 2.4], ["Mel", 21], ["Pn", 7.4], ["Gyc", 3.9], ["Kar", 0.5], ["Scr", 2.6], ["Sue", 3.2], ["M1C", 0.8], ["Tha", 1], ["p15", 0.7], ["Cry", 3.4], ["Pro", 1.9], ["The", 2.1], ["oth", 7.1]],
  [["Cer", 1.3], ["Chs", 0.7], ["Och", 1.3], ["Cyc", 0.7], ["Bac", 57.6], ["CCM", 4.3], ["Cha", 2.4], ["Cyl", 1], ["Med", 2.9], ["Din", 1.2], ["Gyc", 2.5], ["Scr", 4], ["Sue", 2.9], ["M1C", 0.8], ["Tha", 8.9], ["M1C", 0.8], ["Cry", 1], ["The", 1.6], ["oth", 4.1]],
];

const eukIceBr: Seg[][] = [
  [["Alv", 11.8], ["Cer", 1.6], ["Bac", 12.3], ["CCM", 7.7], ["Cyl", 3.4], ["Dia", 1], ["Med", 1], ["Mel", 34.7], ["Pn", 4.8], ["Din", 1], ["Gyc", 1.9], ["Scr", 2.4], ["Sue", 1.4], ["Pel", 1], ["Tha", 0.5], ["M1C", 0.7], ["Cry", 5.1], ["Pro", 1], ["The", 1.3], ["oth", 5.4]],
  [["Alv", 2.2], ["Cer", 2.1], ["Chs", 0.8], ["Och", 0.7], ["Bac", 26.3], ["CCM", 11.1], ["Cha", 6], ["Cyl", 1.9], ["Dia", 2.4], ["Med", 1.5], ["Pn", 8.7], ["Din", 1.9], ["Gyp", 0.7], ["Gyc", 2.4], ["Kar", 0.7], ["Scr", 5.3], ["Sue", 2.7], ["M1C", 0.7], ["M2", 1.3], ["M1A", 1.4], ["Mon", 0.8], ["Tha", 1.4], ["Cry", 8.7], ["Pro", 1.2], ["The", 1.4], ["oth", 5.7]],
];

const eukIce9: Seg[][] = [
  [["Cer", 3], ["Chs", 5.8], ["Och", 1.6], ["Cyc", 0.5], ["Bac", 26.8], ["CCM", 3.1], ["Cyc", 0.7], ["Din", 1], ["Gyp", 1.4], ["Gyc", 11.1], ["Scr", 10.9], ["Sue", 10.6], ["M1C", 1.9], ["Pel", 1.9], ["Tha", 4.3], ["Cho", 1], ["Hyp", 0.7], ["Stb", 0.8], ["Spi", 0.8], ["Cry", 4], ["The", 2.4], ["oth", 5.7]],
  [["Cer", 1.3], ["Och", 0.8], ["Bac", 2.9], ["CCM", 3.6], ["Cha", 1.2], ["Dia", 1], ["Och", 0.8], ["Chy", 1.3], ["Din", 2.8], ["Gym", 1], ["Gyc", 1.5], ["Kar", 1.2], ["Scr", 1.9], ["Sue", 41.4], ["M1C", 1.6], ["M2", 1.3], ["Leu", 2.9], ["Pel", 2.4], ["Tha", 1.4], ["Cho", 1], ["Oli", 1], ["Stb", 1], ["Cry", 8.7], ["Pro", 3.1], ["The", 2.9], ["oth", 10.2]],
];

const eukMPAGG: Seg[][] = [
  [["Cer", 0.8], ["CCI", 24.8], ["Chs", 3.4], ["Ctm", 11.8], ["Bac", 16.6], ["Och", 0.8], ["CCM", 1], ["Cyc", 1], ["Med", 1], ["Cha", 1], ["Scr", 2.1], ["Sue", 7], ["M1C", 0.5], ["Pel", 9.2], ["Stb", 1], ["Cry", 10.8], ["Pro", 2.2], ["The", 0.7], ["oth", 4.5]],
  [["CCI", 70.6], ["Chs", 2.4], ["M1C", 0.8], ["Sue", 7.4], ["Pel", 9.4], ["Cry", 8.9], ["Cer", 0.5]],
  [["Alv", 18.6], ["Cer", 2.1], ["Bac", 4.4], ["Cha", 0.7], ["Cyc", 0.7], ["Cyl", 2.5], ["Dia", 1.3], ["Med", 7.5], ["Mel", 50.9], ["Pn", 0.9], ["Scr", 1.4], ["M1C", 0.8], ["Cry", 2.6], ["The", 1.7], ["oth", 3.9]],
];

const eukMPW: Seg[][] = [
  [["Cer", 1.3], ["Cal", 0.5], ["Chs", 3.7], ["Och", 1.8], ["Bac", 2], ["CCM", 2.9], ["Cha", 1.9], ["Cyc", 1.3], ["Gyc", 4.3], ["Scr", 1.9], ["Sue", 33.5], ["M1C", 5.6], ["M2", 1.2], ["Pel", 8.7], ["Tha", 1.3], ["Oli", 2.6], ["Stb", 2.9], ["Cry", 9.6], ["Pro", 4.1], ["The", 2.6], ["oth", 6.3]],
  [["Cer", 0.8], ["CCI", 2.4], ["Chs", 16.1], ["Och", 1], ["Bie", 0.5], ["Scr", 1.5], ["Gyc", 23.6], ["Scr", 9.8], ["Gyc", 0.7], ["M1C", 1.9], ["Pel", 5.1], ["Cho", 4.8], ["Stb", 6.7], ["Cry", 13.7], ["Pro", 3.7], ["The", 1.2], ["oth", 6.5]],
  [["Alv", 8], ["Cer", 1.6], ["Bac", 4.6], ["CCM", 10.1], ["Cha", 1.9], ["Cyl", 1.4], ["Med", 2.6], ["Mel", 5.8], ["Pn", 10.4], ["Din", 2.6], ["Gyp", 0.8], ["Gyc", 1.9], ["Scr", 5.3], ["Sue", 12.5], ["M1C", 2.2], ["M1A", 2.4], ["Pel", 3.9], ["M1C", 0.7], ["Cry", 6.3], ["Pro", 5.1], ["The", 3.1], ["oth", 6.8]],
];

const eukSW: Seg[][] = [
  [["Alv", 2.7], ["CCI", 1.9], ["Cyc", 1], ["Cha", 1.7], ["Med", 2.6], ["Bie", 1.9], ["Din", 63.3], ["Gyp", 1], ["Kar", 2.7], ["Sue", 2.9], ["M1C", 1.4], ["M1A", 2.4], ["Stb", 1], ["Oli", 1.9], ["Str", 3.7], ["Cry", 1.6], ["p15", 0.5], ["oth", 5.8]],
  [["Alv", 3.4], ["Cha", 0.8], ["Med", 1.9], ["Bie", 1.4], ["Din", 65], ["Gyp", 1], ["Kar", 1.4], ["Sue", 1.9], ["Din", 1.9], ["Cho", 4.3], ["Oli", 13], ["Pel", 1.2], ["oth", 2.8]],
  [["Alv", 2.2], ["Cal", 76.6], ["Cyc", 1.4], ["Gyp", 0.8], ["Chy", 1.6], ["Din", 2.9], ["Gyp", 1.4], ["Kar", 5.1], ["M2", 1.2], ["Stb", 1.2], ["M1C", 1.2], ["oth", 4.4]],
  [["Alv", 4.6], ["Cal", 0.7], ["Cha", 1], ["Bie", 45.6], ["Chy", 1.3], ["Din", 3.8], ["Gyp", 6.6], ["Gym", 7.2], ["Gyc", 0.7], ["Kar", 2.9], ["M1C", 1], ["Chy", 1.3], ["M1A", 4.6], ["M2", 7.4], ["Cry", 1.7], ["The", 1.2], ["oth", 8.4]],
  [["Alv", 10.9], ["Cal", 1.3], ["Cyc", 19.9], ["M1C", 0.8], ["Bie", 6.6], ["Din", 4.6], ["Gyp", 6], ["Gym", 2.9], ["Gyc", 2.2], ["Kar", 4.3], ["Sue", 1.6], ["M1C", 1.7], ["M1A", 2.9], ["M2", 2.9], ["Cho", 8.2], ["Oli", 4.8], ["Stb", 1.4], ["Cry", 0.5], ["The", 1.9], ["oth", 14.6]],
  [["Alv", 15], ["Cyc", 0.7], ["Cha", 1.4], ["Cyc", 1], ["Cal", 0.8], ["Chs", 0.9], ["Dic", 1.9], ["Bie", 1.9], ["Din", 12], ["Gyp", 4.3], ["Gym", 6.7], ["Gyc", 2.2], ["Kar", 10.9], ["M1C", 3.9], ["M1A", 2.3], ["Cho", 4.4], ["Oli", 3.9], ["Str", 6.6], ["Cry", 0.8], ["The", 1], ["oth", 17.4]],
  [["Alv", 12], ["Cal", 1.9], ["Bac", 1.9], ["Cyc", 1.1], ["Och", 1.2], ["Dic", 4.3], ["Bie", 3.1], ["Chy", 2.4], ["Din", 17.1], ["Gyp", 1], ["Gyc", 2.6], ["Kar", 13], ["Sue", 7.5], ["M1C", 1.9], ["M1A", 2.1], ["Leu", 0.8], ["Tha", 1], ["Cho", 1], ["Hyp", 1], ["Oli", 1], ["Pel", 1.4], ["Cry", 3.2], ["The", 1.4], ["oth", 16.1]],
];

const eukDSAGG: Seg[][] = [
  [["M1C", 0.8], ["Lab", 97.8], ["p15", 0.5], ["M1C", 0.4], ["oth", 0.5]],
  [["Alv", 9.7], ["Cyc", 0.7], ["Mel", 85.5], ["Scr", 1.3], ["M1C", 0.7], ["Cry", 1.3], ["oth", 0.8]],
  [["Alv", 24.9], ["Cer", 2.2], ["Med", 0.9], ["Mel", 45.6], ["Scr", 1], ["Sue", 1.7], ["Lab", 8.4], ["p15", 2.4], ["Spi", 0.8], ["Tha", 1], ["Hol", 3.9], ["Cry", 2.1], ["The", 1.9], ["oth", 3.2]],
  [["Alv", 47.3], ["Mel", 47.2], ["Scr", 3.1], ["M1C", 0.7], ["Cry", 1.3], ["oth", 0.4]],
  [["M1C", 0.3], ["Lab", 99.2], ["oth", 0.5]],
  [["M1C", 0.6], ["Lab", 96], ["Cry", 2.6], ["M1C", 0.8]],
  [],
  [["Alv", 1.3], ["Cer", 1], ["Bac", 1.3], ["CCM", 0.7], ["Mel", 0.7], ["Cha", 1], ["Gyc", 1], ["Din", 1.2], ["Scr", 1.2], ["Sue", 14.8], ["Lab", 59.5], ["M1C", 0.7], ["Leu", 0.8], ["Pel", 1.2], ["Spi", 1.9], ["p15", 1.7], ["Cry", 2.9], ["Pro", 1], ["The", 1.6], ["oth", 4.5]],
  [["Alv", 7.8], ["Cal", 0.7], ["Cer", 1.9], ["Cyc", 5.5], ["Cha", 6.7], ["Med", 2.7], ["Cha", 0.8], ["Din", 24], ["Gyp", 3], ["Gyc", 1.3], ["Kar", 7], ["Scr", 1.3], ["Lab", 24.3], ["p15", 1], ["Cho", 1.4], ["Hyp", 0.7], ["Oli", 1.3], ["The", 1], ["oth", 7.6]],
];

const eukHDT: Seg[][] = [
  [["Alv", 12.3], ["Cal", 0.7], ["Cer", 1], ["Cha", 1], ["Mel", 42.6], ["Din", 0.8], ["Gyc", 3.8], ["Scr", 9.2], ["Sue", 7.1], ["Lab", 3.7], ["M1C", 0.7], ["Tha", 1.4], ["Cry", 8.5], ["Pro", 1], ["The", 4], ["oth", 2.2]],
  [["Alv", 16.7], ["Cha", 0.7], ["Mel", 41.2], ["Din", 1], ["Gyc", 3.1], ["Scr", 5.3], ["Sue", 3.2], ["Lab", 3.4], ["Tha", 0.8], ["p15", 1.2], ["Cry", 18.5], ["Pro", 1.3], ["The", 1.2], ["oth", 2.4]],
];

const eukSed: Seg[][] = [
  [["Alv", 4.4], ["Cer", 6.9], ["M1C", 0.5], ["Sue", 1], ["Lab", 50.1], ["Mon", 3.6], ["p15", 4.1], ["Sac", 6.9], ["Tha", 4.6], ["Leu", 0.8], ["Cry", 1.9], ["The", 1.3], ["oth", 13.9]],
  [["Aco", 8], ["Alv", 3.1], ["CCI", 0.3], ["Cer", 7.2], ["M1C", 1.3], ["Sue", 1.4], ["Lab", 44.7], ["Mon", 2.7], ["p15", 7.7], ["Tha", 7.2], ["Hol", 0.8], ["Mon", 1], ["Cry", 2.9], ["The", 1], ["oth", 10.7]],
  [], [], [], [], [], [],
  [["Alv", 6.3], ["Cal", 1.5], ["Cha", 11.8], ["Din", 10.1], ["Kar", 25.8], ["Lab", 21.6], ["M1C", 5.6], ["Oli", 1.9], ["oth", 15.4]],
  [], [],
];

// ---- layout of the groups (first row centre, row pitch, side label) ----
const groups = [
  { name: "IceS", rows: rowsIceS, bac: bacIceS, euk: eukIceS, center: 100.7, step: 18.8, labelY: 157 },
  { name: "IceB", rows: rowsIceB, bac: bacIceB, euk: eukIceB, center: 246.6, step: 18.7, labelY: 312 },
  { name: "IceBr", rows: rowsIceBr, bac: bacIceBr, euk: eukIceBr, center: 410.6, step: 18.7, labelY: 418 },
  { name: "", rows: rowsIce9, bac: bacIce9, euk: eukIce9, center: 460.7, step: 18.5, labelY: 0 },
  { name: "MPAGG", rows: rowsMPAGG, bac: bacMPAGG, euk: eukMPAGG, center: 512, step: 18.0, labelY: 531 },
  { name: "MPW", rows: rowsMPW, bac: bacMPW, euk: eukMPW, center: 581.7, step: 18.3, labelY: 601 },
  { name: "SW", rows: rowsSW, bac: bacSW, euk: eukSW, center: 652.6, step: 18.3, labelY: 709 },
  { name: "DSAGG", rows: rowsDSAGG, bac: bacDSAGG, euk: eukDSAGG, center: 795.6, step: 18.2, labelY: 862 },
  { name: "HDT", rows: rowsHDT, bac: bacHDT, euk: eukHDT, center: 976, step: 18.3, labelY: 985 },
  { name: "Sed", rows: rowsSed, bac: bacSed, euk: eukSed, center: 1027.8, step: 18.05, labelY: 1115 },
];

const bacColors: Record<string, string> = Object.fromEntries(bacteriaLegend.map(([k, , c]) => [k, c]));
const eukColors: Record<string, string> = Object.fromEntries(eukaryotaLegend.map(([k, , c]) => [k, c]));

const AXIS_H = 22;
const AXIS_PAD = 8.6;
const ML = 14; // side margins so the 0 / 100 tick labels are not clipped
const MR = 16;

function RowTick(p: any) {
  return (
    <text
      x={ML + 45}
      y={p.y}
      textAnchor="middle"
      dominantBaseline="central"
      fontFamily="DejaVu Serif"
      fontWeight="bold"
      fontSize={10}
      fill="#1a1a1a"
    >
      {p.payload.value}
    </text>
  );
}

function Strip({
  rows, labels, colors, step, center, left, plotWidth, axis, rowLabels,
}: {
  rows: Seg[][]; labels: string[]; colors: Record<string, string>; step: number; center: number;
  left: number; plotWidth: number; axis: boolean; rowLabels: boolean;
}) {
  const yW = rowLabels ? 90 : 0;
  const pad = axis ? AXIS_PAD : 0;
  const axisH = axis ? AXIS_H : 0;
  const maxLen = Math.max(1, ...rows.map((r) => r.length));
  const keys = Array.from({ length: maxLen }, (_, j) => "s" + j);
  const data = labels.map((row, i) => {
    const o: Record<string, any> = { row };
    keys.forEach((k, j) => {
      o[k] = rows[i]?.[j]?.[1] ?? 0;
    });
    return o;
  });
  const height = labels.length * step + pad + axisH;
  const top = center - step / 2 - pad - axisH;

  return (
    <div style={{ position: "absolute", left: left - yW - ML, top }}>
      <BarChart
        layout="vertical"
        width={plotWidth + yW + ML + MR}
        height={height}
        data={data}
        margin={{ top: 0, right: MR, bottom: 0, left: ML }}
      >
        <XAxis
          type="number"
          domain={[0, 100]}
          allowDataOverflow
          orientation="top"
          hide={!axis}
          height={AXIS_H}
          ticks={axisTicks}
          interval={0}
          tickSize={4}
          tickMargin={2}
          axisLine={{ stroke: "#555" }}
          tickLine={{ stroke: "#555" }}
          tick={{ fontSize: 10, fontWeight: "bold", fill: "#1a1a1a", fontFamily: "DejaVu Sans" }}
        />
        <YAxis
          type="category"
          dataKey="row"
          width={yW}
          hide={!rowLabels}
          padding={{ top: pad, bottom: 0 }}
          interval={0}
          axisLine={false}
          tickLine={false}
          tick={rowLabels ? RowTick : false}
        />
        {keys.map((k, j) => (
          <Bar
            key={k}
            dataKey={k}
            stackId="a"
            barSize={15}
            isAnimationActive={false}
            stroke="#4a4a4a"
            strokeWidth={0.4}
          >
            {data.map((_, i) => (
              <Cell key={i} fill={colors[rows[i]?.[j]?.[0] ?? "oth"]} />
            ))}
          </Bar>
        ))}
      </BarChart>
    </div>
  );
}

export default function App() {
  return (
    <div
      style={{
        position: "absolute",
        left: 0,
        top: 0,
        width: 1358,
        height: 1213,
        overflow: "hidden",
        background: "#fff",
        fontFamily: "DejaVu Sans",
        color: "#222",
      }}
    >
      <div style={{ position: "absolute", left: 8, top: 8, width: 1346, height: 1220, border: "1px solid #cfcfcf" }} />

      {/* grey group panels */}
      <div style={{ position: "absolute", left: 275, top: 496, width: 832, height: 70, background: "#d9d9d9" }} />
      <div style={{ position: "absolute", left: 275, top: 778, width: 832, height: 178, background: "#d9d9d9" }} />

      {/* titles */}
      <div style={{ position: "absolute", left: 492, top: 37, transform: "translate(-50%, -50%)", fontWeight: "bold", fontSize: 18.5 }}>
        Bacteria
      </div>
      <div style={{ position: "absolute", left: 926, top: 33, transform: "translate(-50%, -50%)", fontWeight: "bold", fontSize: 18.5 }}>
        Eukaryota
      </div>

      {/* group labels */}
      {groups.filter((g) => g.name).map((g) => (
        <div
          key={g.name}
          style={{
            position: "absolute",
            left: 297,
            top: g.labelY,
            transform: "translate(-50%, -50%) rotate(-90deg)",
            fontWeight: "bold",
            fontSize: 16,
            whiteSpace: "nowrap",
          }}
        >
          {g.name}
        </div>
      ))}

      {groups.map((g, gi) => (
        <React.Fragment key={gi}>
          <Strip rows={g.bac} labels={g.rows} colors={bacColors} step={g.step} center={g.center}
            left={320.7} plotWidth={345} axis={gi === 0} rowLabels={false} />
          <Strip rows={g.euk} labels={g.rows} colors={eukColors} step={g.step} center={g.center}
            left={754} plotWidth={346} axis={gi === 0} rowLabels={true} />
        </React.Fragment>
      ))}

      {/* bacteria legend */}
      {bacteriaLegend.map(([k, name, color], i) => {
        const y = 100 + i * 17.75;
        return (
          <React.Fragment key={"b" + k}>
            <div style={{ position: "absolute", left: 0, width: 233, top: y - 6, height: 12, lineHeight: "12px", textAlign: "right", fontSize: 8.5, whiteSpace: "nowrap" }}>
              {name}
            </div>
            <div style={{ position: "absolute", left: 240, top: y - 5.5, width: 13, height: 11, background: color, border: "1px solid #7a7a7a", boxSizing: "border-box" }} />
          </React.Fragment>
        );
      })}

      {/* eukaryota legend */}
      {eukaryotaLegend.map(([k, name, color], i) => {
        const y = 100 + i * 16.82;
        return (
          <React.Fragment key={"e" + k}>
            <div style={{ position: "absolute", left: 1151, top: y - 5.5, width: 12, height: 11, background: color, border: "1px solid #7a7a7a", boxSizing: "border-box" }} />
            <div style={{ position: "absolute", left: 1171, top: y - 6, height: 12, lineHeight: "12px", fontSize: 8.5, whiteSpace: "nowrap" }}>
              {name}
            </div>
          </React.Fragment>
        );
      })}
    </div>
  );
}
